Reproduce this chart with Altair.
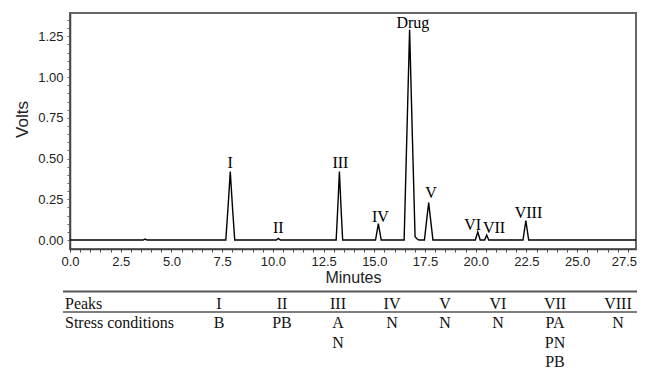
import altair as alt
import pandas as pd

# ---- chromatogram trace (minutes, volts) ----
trace_min = [0.0, 3.6, 3.7, 3.8,
             7.68, 7.79, 7.9, 8.01, 8.12,
             10.17, 10.27, 10.37,
             13.12, 13.2, 13.28, 13.36, 13.44,
             15.06, 15.13, 15.2, 15.27, 15.34,
             16.47, 16.6, 16.74, 16.88, 17.01, 17.1, 17.2,
             17.47, 17.57, 17.68, 17.79, 17.89,
             19.98, 20.04, 20.1, 20.16, 20.22,
             20.44, 20.49, 20.54, 20.59, 20.64,
             22.33, 22.4, 22.47, 22.54, 22.61,
             27.9]
trace_volts = [0.0, 0.0, 0.006, 0.0,
               0.0, 0.2, 0.42, 0.2, 0.0,
               0.0, 0.01, 0.0,
               0.0, 0.2, 0.42, 0.2, 0.0,
               0.0, 0.05, 0.1, 0.05, 0.0,
               0.0, 0.62, 1.29, 0.62, 0.02, 0.008, 0.0,
               0.0, 0.11, 0.23, 0.11, 0.0,
               0.0, 0.025, 0.05, 0.025, 0.0,
               0.0, 0.015, 0.03, 0.015, 0.0,
               0.0, 0.06, 0.12, 0.06, 0.0,
               0.0]

# ---- peak labels ----
peak_names = ["I", "II", "III", "IV", "Drug", "V", "VI", "VII", "VIII"]
peak_label_min = [7.9, 10.27, 13.33, 15.3, 16.9, 17.8, 19.85, 20.9, 22.6]
peak_label_volts = [0.44, 0.043, 0.44, 0.11, 1.30, 0.26, 0.061, 0.043, 0.135]

# ---- table ----
table_peaks = ["I", "II", "III", "IV", "V", "VI", "VII", "VIII"]
table_stress = [["B"], ["PB"], ["A", "N"], ["N"], ["N"], ["N"], ["PA", "PN", "PB"], ["N"]]
row_headers = ["Peaks", "Stress conditions"]

# ---- axis ticks ----
x_ticks = [i * 0.5 for i in range(56)]
y_ticks = [round(i * 0.05, 2) for i in range(28)]

W, H = 566, 236
SANS = "Liberation Sans"
SERIF = "Liberation Serif"

trace = pd.DataFrame({"Minutes": trace_min, "Volts": trace_volts})
labels = pd.DataFrame({"Minutes": peak_label_min, "Volts": peak_label_volts, "name": peak_names})

xsc = alt.Scale(domain=[0, 27.9], nice=False, zero=False)
ysc = alt.Scale(domain=[-0.055, 1.393], nice=False, zero=False)

xax = alt.Axis(values=x_ticks,
               labelExpr="datum.value % 2.5 == 0 ? format(datum.value, '.1f') : ''",
               labelOffset={"condition": {"test": "datum.value == 27.5", "value": -4}, "value": 0},
               title="Minutes", tickSize=3, labelPadding=3,
               labelFont=SANS, labelFontSize=13, labelColor="#222",
               titleFont=SANS, titleFontSize=16, titleFontWeight="normal", titleColor="#222",
               titleY=28, titleBaseline="middle",
               labelOverlap=False, labelFlush=False, grid=False,
               domainColor="#444", domainWidth=1.5, tickColor="#444")
yax = alt.Axis(values=y_ticks,
               labelExpr="abs(datum.value * 4 - round(datum.value * 4)) < 0.001 ? format(datum.value, '.2f') : ''",
               title="Volts", tickSize=3, labelPadding=4,
               labelFont=SANS, labelFontSize=13, labelColor="#222",
               titleFont=SANS, titleFontSize=17, titleFontWeight="normal", titleColor="#222",
               titleX=-48, titleY=106, titleAngle=270, titleAlign="center", titleBaseline="middle",
               labelOverlap=False, labelFlush=False, grid=False,
               domainColor="#444", domainWidth=1.5, tickColor="#666")

line = alt.Chart(trace).mark_line(color="black", strokeWidth=1.4).encode(
    x=alt.X("Minutes:Q", scale=xsc, axis=xax),
    y=alt.Y("Volts:Q", scale=ysc, axis=yax),
)
peak_text = alt.Chart(labels).mark_text(font=SERIF, fontSize=16, baseline="alphabetic",
                                         align="center", color="black").encode(
    x=alt.X("Minutes:Q", scale=xsc, axis=xax),
    y=alt.Y("Volts:Q", scale=ysc, axis=yax),
    text="name:N",
)
chrom = alt.layer(line, peak_text)

# table data
cells = []
for k, p in enumerate(table_peaks):
    cells.append({"k": k, "row": 0, "text": p})
    for j, s in enumerate(table_stress[k]):
        cells.append({"k": k, "row": j + 1, "text": s})
cells = pd.DataFrame(cells)
heads = pd.DataFrame({"row": [0, 1], "text": row_headers})

tx = alt.Scale(domain=list(range(8)), range=[149, 212, 268, 322, 375, 428, 485, 548])
ty = alt.Scale(domain=[0, 3], range=[291, 349])

rule_top = alt.Chart(pd.DataFrame({"row": [-0.647]})).mark_rule(color="#555", strokeWidth=2).encode(
    x=alt.value(-7), x2=alt.value(567), y=alt.Y("row:Q", scale=ty, axis=None))
rule_mid = alt.Chart(pd.DataFrame({"row": [0.414]})).mark_rule(color="#555", strokeWidth=1.4).encode(
    x=alt.value(-7), x2=alt.value(567), y=alt.Y("row:Q", scale=ty, axis=None))
head_text = alt.Chart(heads).mark_text(font=SERIF, fontSize=16, align="left", baseline="middle",
                                       color="#111").encode(
    x=alt.value(-5), y=alt.Y("row:Q", scale=ty, axis=None), text="text:N")
cell_text = alt.Chart(cells).mark_text(font=SERIF, fontSize=16, align="center", baseline="middle",
                                       color="#111").encode(
    x=alt.X("k:Q", scale=tx, axis=None), y=alt.Y("row:Q", scale=ty, axis=None), text="text:N")
table = alt.layer(rule_top, rule_mid, head_text, cell_text)

chart = alt.layer(chrom, table).resolve_scale(x="independent", y="independent").properties(
    width=W, height=H,
    autosize=alt.AutoSizeParams(type="none"),
    padding={"left": 62, "top": 5, "right": 1, "bottom": 120},
    background="white",
).configure_view(stroke="#666", strokeWidth=2)

chart.save("out.html", embed_options={"renderer": "svg", "actions": False})
